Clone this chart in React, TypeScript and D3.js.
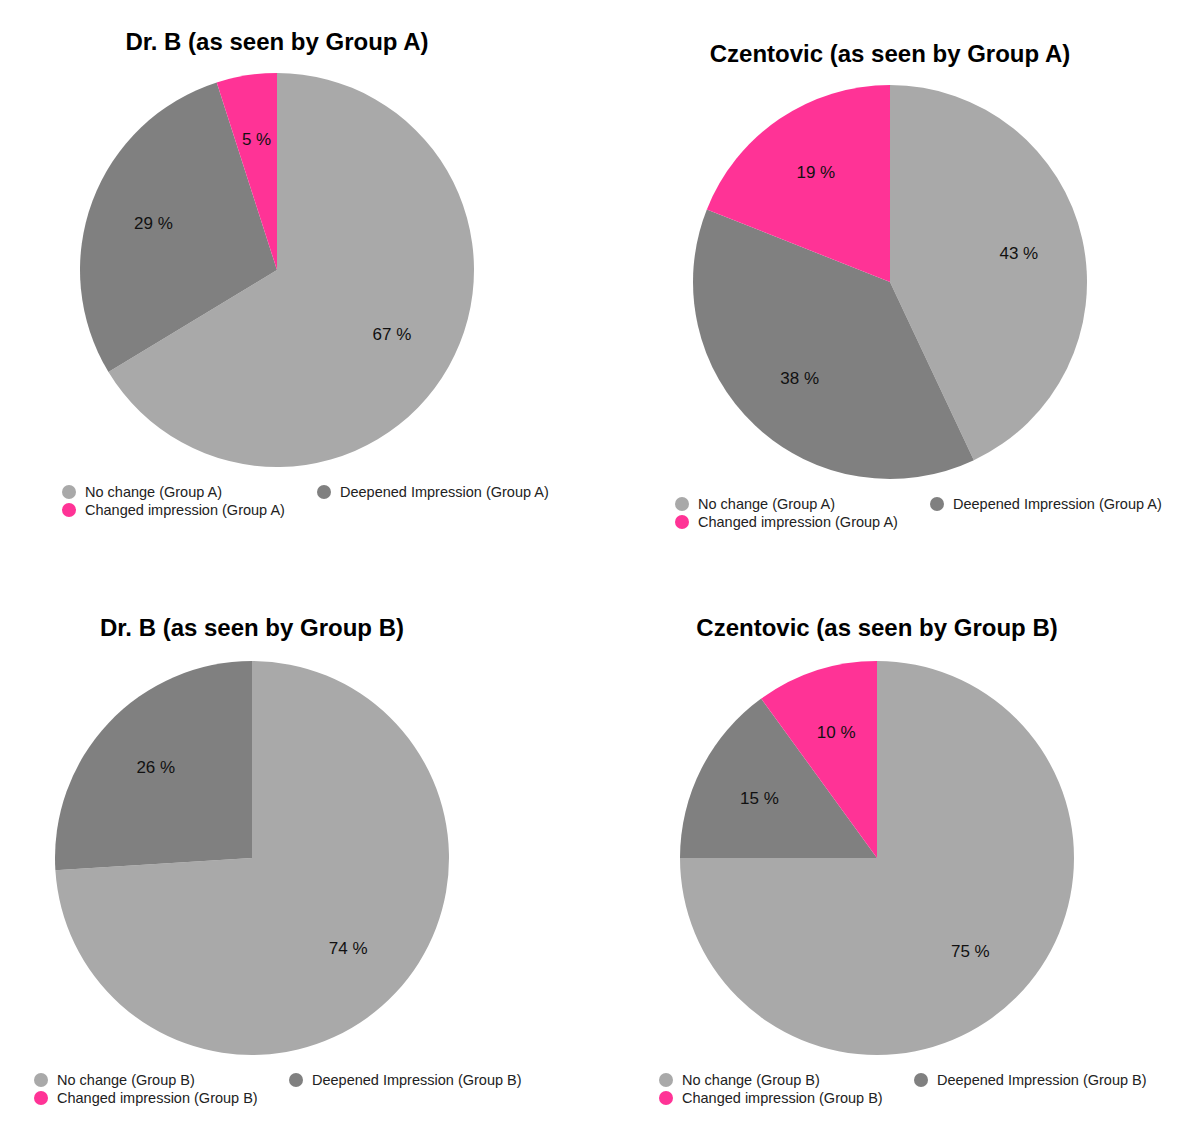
import * as d3 from "d3";

const categories = ["No change", "Deepened Impression", "Changed impression"];
const titles = [
  "Dr. B (as seen by Group A)",
  "Czentovic (as seen by Group A)",
  "Dr. B (as seen by Group B)",
  "Czentovic (as seen by Group B)",
];
const groups = ["Group A", "Group A", "Group B", "Group B"];
const drBGroupA = [67, 29, 5];
const czentovicGroupA = [43, 38, 19];
const drBGroupB = [74, 26, 0];
const czentovicGroupB = [75, 15, 10];
const seriesValues = [drBGroupA, czentovicGroupA, drBGroupB, czentovicGroupB];

const colors = ["#a9a9a9", "#808080", "#ff3396"];
const layout = [
  { cx: 277, cy: 270, ty: 50, lx: 69, ly: 492 },
  { cx: 890, cy: 282, ty: 62, lx: 682, ly: 504 },
  { cx: 252, cy: 858, ty: 636, lx: 41, ly: 1080 },
  { cx: 877, cy: 858, ty: 636, lx: 666, ly: 1080 },
];
const R = 197;
const font = "Helvetica, Arial, 'Liberation Sans', sans-serif";

function Pie({ idx }: { idx: number }) {
  const { cx, cy, ty, lx, ly } = layout[idx];
  const values = seriesValues[idx];
  const arcs = d3.pie<number>().sort(null).value(d => d)(values);
  const arc = d3.arc<d3.PieArcDatum<number>>().innerRadius(0).outerRadius(R);
  const labelArc = d3.arc<d3.PieArcDatum<number>>().innerRadius(R * 0.67).outerRadius(R * 0.67);
  const g = groups[idx];
  const legend = [
    { i: 0, x: lx, y: ly },
    { i: 1, x: lx + 255, y: ly },
    { i: 2, x: lx, y: ly + 18 },
  ];
  return (
    <g>
      <text x={cx} y={ty} textAnchor="middle" fontFamily={font} fontWeight="bold" fontSize={24} fill="#000">
        {titles[idx]}
      </text>
      <g transform={`translate(${cx},${cy})`}>
        {arcs.map((a, i) => (
          <path key={i} d={arc(a) || ""} fill={colors[i]} />
        ))}
        {arcs.map((a, i) =>
          a.value > 0 ? (
            <text key={i} transform={`translate(${labelArc.centroid(a)})`} textAnchor="middle"
              dominantBaseline="central" fontFamily={font} fontSize={17} fill="#111">
              {a.value} %
            </text>
          ) : null
        )}
      </g>
      {legend.map(l => (
        <g key={l.i}>
          <circle cx={l.x} cy={l.y} r={7} fill={colors[l.i]} />
          <text x={l.x + 16} y={l.y} dominantBaseline="central" fontFamily={font} fontSize={14.5} fill="#222">
            {categories[l.i]} ({g})
          </text>
        </g>
      ))}
    </g>
  );
}

export default function App() {
  return (
    <svg width={1200} height={1145} style={{ position: "absolute", left: 0, top: 0, background: "#fff" }}>
      {titles.map((_, i) => (
        <Pie key={i} idx={i} />
      ))}
    </svg>
  );
}
